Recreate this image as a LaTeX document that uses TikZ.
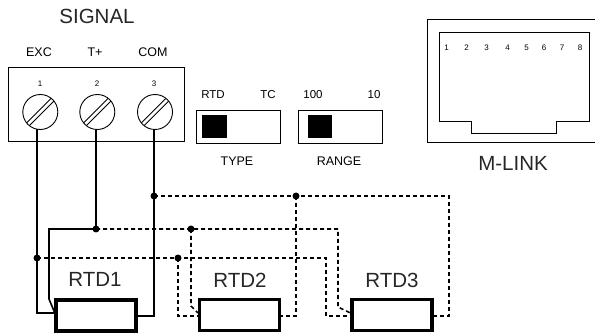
\documentclass[tikz,border=0pt]{standalone}
\usepackage{fontspec}
\setmainfont{Liberation Sans}
\usetikzlibrary{calc}
\begin{document}
\begin{tikzpicture}[x=1pt,y=-1pt,
  thinl/.style={line width=0.9pt},
  wire/.style={line width=1.6pt},
  dwire/.style={line width=1.6pt, dash pattern=on 4pt off 3pt},
  rtdbox/.style={draw, line width=3.2pt, minimum width=80pt, minimum height=31pt, inner sep=0pt},
  screw/.style={circle, draw, line width=0.9pt, minimum size=35pt, inner sep=0pt},
  dot/.style={circle, fill, inner sep=0pt, minimum size=7pt},
  big/.style={font=\fontsize{20.5}{24}\selectfont, inner sep=0pt, text=black!85},
  mid/.style={font=\fontsize{12.5}{15}\selectfont, inner sep=0pt},
  sml/.style={font=\fontsize{11.5}{14}\selectfont, inner sep=0pt},
  tiny/.style={font=\fontsize{8}{10}\selectfont, inner sep=0pt}]
\useasboundingbox (0,0) rectangle (595,334);

% terminal block
\draw[thinl] (8,67) rectangle (184,141);
\node[big] (signal) at (97,16) {SIGNAL};
\node[mid] (lexc) at (39,52) {EXC};
\node[mid] (ltp) at (95,52) {T+};
\node[mid] (lcom) at (153,52) {COM};
\node[tiny] (n1) at (40,84) {1};
\node[tiny] (n2) at (97,84) {2};
\node[tiny] (n3) at (154,84) {3};
\node[screw] (s1) at (40.3,112) {};
\node[screw] (s2) at (97.3,112) {};
\node[screw] (s3) at (155,112) {};
\foreach \s in {s1,s2,s3}{
  \draw[thinl] ($(\s)+(13.7,-10.9)$) -- ($(\s)+(-10.9,13.7)$);
  \draw[thinl] ($(\s)+(10.9,-13.7)$) -- ($(\s)+(-13.7,10.9)$);
}
\coordinate (t1) at (37,129.2);
\coordinate (t2) at (96,129.4);
\coordinate (t3) at (154,129.4);

% switches
\node[sml] (lrtd) at (213,95) {RTD};
\node[sml] (ltc) at (268,95) {TC};
\node[sml] (l100) at (313,95) {100};
\node[sml] (l10) at (374,95) {10};
\draw[thinl] (196,110) rectangle (280,143);
\fill (202,115) rectangle (227,138);
\draw[thinl] (298,110) rectangle (382,143);
\fill (308,115) rectangle (332,138);
\node[mid] (ltype) at (237,161) {TYPE};
\node[mid] (lrange) at (339,161) {RANGE};

% M-LINK
\draw[thinl] (600,19.5) -- (427,19.5) -- (427,142.5) -- (600,142.5);
\draw[thinl] (439,32.3) -- (589.3,32.3) -- (589.3,121) -- (556,121) -- (556,133.5)
  -- (471.7,133.5) -- (471.7,121) -- (439,121) -- cycle;
\foreach \i/\x in {1/446.7,2/466.7,3/486.7,4/507.5,5/526.7,6/544,7/562,8/580}{
  \node[tiny] (p\i) at (\x,47.3) {\i};
}
\node[big] (mlink) at (513,163) {M-LINK};

% RTDs
\node[rtdbox] (r1) at (96,315.5) {};
\node[rtdbox] (r2) at (239.5,315) {};
\node[rtdbox] (r3) at (392,315) {};
\node[big] (lr1) at (95,279) {RTD1};
\node[big] (lr2) at (240,280) {RTD2};
\node[big] (lr3) at (392,280) {RTD3};

% junctions
\node[dot] (j3a) at (154,196) {};
\node[dot] (j3b) at (296,196) {};
\node[dot] (j2a) at (96,229) {};
\node[dot] (j2b) at (191,229) {};
\node[dot] (j1a) at (37,258) {};
\node[dot] (j1b) at (178,258) {};

% solid wires RTD1
\draw[wire] (t1) -- (37,313) -- (r1.west |- 0,313);
\draw[wire] (t2) -- (j2a.center) -- (49,229) -- (49,299) -- (r1.west |- 0,312);
\draw[wire] (t3) -- (154,316) -- (r1.east |- 0,316);

% dashed wires
\draw[dwire] (j3a.center) -- (449,196) -- (449,316) -- (r3.east |- 0,316);
\draw[dwire] (j3b.center) -- (296,316) -- (r2.east |- 0,316);
\draw[dwire] (j2a.center) -- (338,229) -- (338,307) -- (r3.west |- 0,313);
\draw[dwire] (j2b.center) -- (191,306) -- (r2.west |- 0,313);
\draw[dwire] (j1a.center) -- (326,258) -- (326,316) -- (r3.west |- 0,316);
\draw[dwire] (j1b.center) -- (178,316) -- (r2.west |- 0,316);
\end{tikzpicture}
\end{document}
